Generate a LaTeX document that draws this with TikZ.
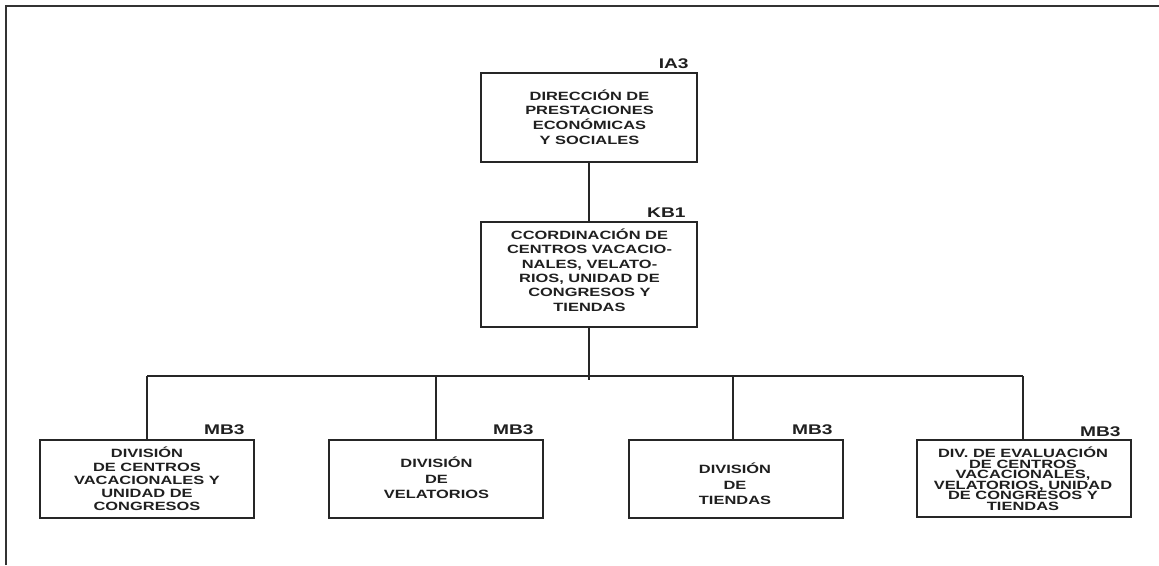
\documentclass[tikz,border=0pt]{standalone}
\usepackage{fontspec}
\setmainfont{Liberation Sans}
\newfontfamily\boxfont[FakeStretch=1.37]{Liberation Sans}
\tikzset{
  box/.style={draw=black!85, line width=1.6pt, rectangle, inner sep=0pt, minimum width=216pt},
  txt/.style={inner sep=0pt, align=center, text=black!88, font=\boxfont\bfseries\fontsize{12}{15}\selectfont},
  lab/.style={inner sep=0pt, anchor=base east, text=black!88, font=\boxfont\bfseries\fontsize{14}{16}\selectfont},
  conn/.style={draw=black!85, line width=1.6pt},
  frame/.style={draw=black!80, line width=2.2pt}
}
\begin{document}
\begin{tikzpicture}[x=1pt,y=-1pt]
\useasboundingbox (0,0) rectangle (1159,565);
\draw[frame] (6,565) -- (6,6) -- (1159,6);

% boxes
\node[box, minimum height=89pt] (top) at (589,117.5) {};
\node[box, minimum height=105pt] (kb) at (589,274.5) {};
\node[box, minimum width=214pt, minimum height=78pt] (b1) at (147,479) {};
\node[box, minimum width=214pt, minimum height=78pt] (b2) at (436,479) {};
\node[box, minimum width=214pt, minimum height=78pt] (b3) at (736,479) {};
\node[box, minimum width=214pt, minimum height=77pt] (b4) at (1024,478.5) {};

% texts
\node[txt, font=\boxfont\bfseries\fontsize{12}{14.8}\selectfont] (ttop) at (589.5,117) {DIRECCIÓN DE\\PRESTACIONES\\ECONÓMICAS\\Y SOCIALES};
\node[txt, font=\boxfont\bfseries\fontsize{12}{14.3}\selectfont] (tkb) at (589.5,270) {CCORDINACIÓN DE\\CENTROS VACACIO-\\NALES, VELATO-\\RIOS, UNIDAD DE\\CONGRESOS Y\\TIENDAS};
\node[txt, font=\boxfont\bfseries\fontsize{12}{13.2}\selectfont] (tb1) at (147,479) {DIVISIÓN\\DE CENTROS\\VACACIONALES Y\\UNIDAD DE\\CONGRESOS};
\node[txt, font=\boxfont\bfseries\fontsize{12}{15.5}\selectfont] (tb2) at (436.5,478) {DIVISIÓN\\DE\\VELATORIOS};
\node[txt, font=\boxfont\bfseries\fontsize{12}{15.5}\selectfont] (tb3) at (735,484) {DIVISIÓN\\DE\\TIENDAS};
\node[txt, font=\boxfont\bfseries\fontsize{12}{10.5}\selectfont] (tb4) at (1023,478.5) {DIV. DE EVALUACIÓN\\DE CENTROS\\VACACIONALES,\\VELATORIOS, UNIDAD\\DE CONGRESOS Y\\TIENDAS};

% labels
\node[lab] (ltop) at ([xshift=-9pt,yshift=4pt]top.north east) {IA3};
\node[lab] (lkb) at ([xshift=-12pt,yshift=4pt]kb.north east) {KB1};
\node[lab] (l1) at ([xshift=-10pt,yshift=5pt]b1.north east) {MB3};
\node[lab] (l2) at ([xshift=-10pt,yshift=5pt]b2.north east) {MB3};
\node[lab] (l3) at ([xshift=-11pt,yshift=5pt]b3.north east) {MB3};
\node[lab] (l4) at ([xshift=-11pt,yshift=3pt]b4.north east) {MB3};

% connectors
\coordinate (busL) at (147,376);
\coordinate (busR) at (1023,376);
\coordinate (busC) at (589,380);
\draw[conn] (top.south) -- (kb.north);
\draw[conn] (kb.south) -- (busC);
\draw[conn] (busL) -- (busR);
\draw[conn] (busL) -- (b1.north);
\draw[conn] (436,376) -- (b2.north);
\draw[conn] (733,376) -- (733,440);
\draw[conn] (busR) -- (1023,440);
\end{tikzpicture}
\end{document}
